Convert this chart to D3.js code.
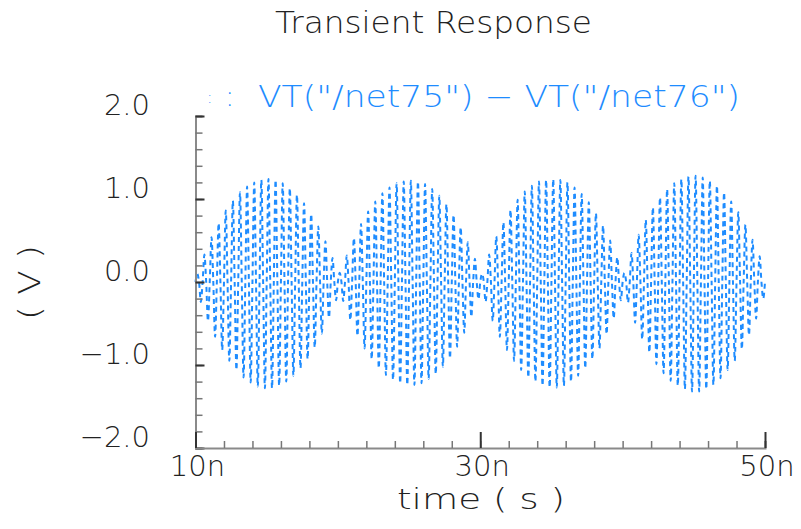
<!DOCTYPE html>
<html>
<head>
<meta charset="utf-8">
<script src="https://cdn.jsdelivr.net/npm/d3@7"></script>
<style>
  body { margin: 0; background: #fff; }
  text { font-family: "DejaVu Sans", sans-serif; font-weight: 200; }
</style>
</head>
<body>
<script>
// peak value of each half cycle (V), one per 0.25 ns starting at 10 ns
var peaks = [
   0.10, -0.24,  0.33, -0.47,  0.54, -0.66,  0.71, -0.82,  0.86, -0.95,
   0.98, -1.06,  1.08, -1.15,  1.15, -1.21,  1.20, -1.26,  1.23, -1.28,
   1.24, -1.28,  1.23, -1.25,  1.19, -1.20,  1.13, -1.13,  1.05, -1.04,
   0.95, -0.93,  0.82, -0.79,  0.67, -0.62,  0.49, -0.43,  0.29, -0.22,

   0.11, -0.23,  0.32, -0.46,  0.53, -0.65,  0.70, -0.80,  0.85, -0.93,
   0.97, -1.04,  1.07, -1.12,  1.14, -1.18,  1.19, -1.22,  1.21, -1.24,
   1.22, -1.24,  1.21, -1.22,  1.18, -1.17,  1.12, -1.11,  1.04, -1.02,
   0.94, -0.92,  0.81, -0.78,  0.66, -0.61,  0.48, -0.42,  0.28, -0.21,

   0.10, -0.24,  0.33, -0.47,  0.55, -0.66,  0.72, -0.82,  0.87, -0.95,
   0.99, -1.06,  1.09, -1.15,  1.16, -1.20,  1.21, -1.25,  1.23, -1.27,
   1.24, -1.27,  1.23, -1.25,  1.20, -1.20,  1.14, -1.13,  1.06, -1.04,
   0.96, -0.93,  0.83, -0.80,  0.68, -0.63,  0.50, -0.44,  0.30, -0.22,

   0.11, -0.25,  0.35, -0.49,  0.57, -0.69,  0.75, -0.85,  0.90, -0.99,
   1.02, -1.10,  1.12, -1.19,  1.19, -1.25,  1.24, -1.29,  1.27, -1.32,
   1.28, -1.32,  1.26, -1.29,  1.22, -1.24,  1.16, -1.16,  1.08, -1.06,
   0.97, -0.95,  0.84, -0.81,  0.69, -0.64,  0.51, -0.44,  0.31, -0.20
];
var tStart = 10e-9, halfPeriod = 0.25e-9;

var yMajor = [-2, -1, 0, 1, 2];
var yLabels = ["\u22122.0", "\u22121.0", "0.0", "1.0", "2.0"];
var xMajor = [10e-9, 30e-9, 50e-9];
var xLabels = ["10n", "30n", "50n"];

var width = 801, height = 529;
var blue = "#1e8cff";

var svg = d3.select("body").append("svg")
    .attr("width", width)
    .attr("height", height);

var x = d3.scaleLinear().domain([10e-9, 50e-9]).range([195.5, 765]);
var y = d3.scaleLinear().domain([-2, 2]).range([448, 116]);

// waveform: zero crossing, then peak, for each half cycle
var pts = [];
peaks.forEach(function(p, i) {
    pts.push([tStart + i * halfPeriod, 0]);
    pts.push([tStart + (i + 0.5) * halfPeriod, p]);
});
pts.push([tStart + peaks.length * halfPeriod, 0]);

var line = d3.line()
    .x(function(d) { return x(d[0]); })
    .y(function(d) { return y(d[1]); })
    .curve(d3.curveMonotoneX);

svg.append("path")
    .datum(pts)
    .attr("fill", "none")
    .attr("stroke", blue)
    .attr("stroke-width", 2)
    .attr("stroke-dasharray", "5,4")
    .attr("d", line);

// ticks point inward
var yMinor = d3.range(-20, 21, 2).map(function(v) { return v / 10; });
var xMinor = d3.range(10, 51, 2).map(function(v) { return v * 1e-9; });

var yAx = svg.append("g")
    .attr("transform", "translate(" + x(10e-9) + ",0)")
    .call(d3.axisRight(y).tickValues(yMinor).tickSize(7).tickFormat(""));
var yAxMaj = svg.append("g")
    .attr("transform", "translate(" + x(10e-9) + ",0)")
    .call(d3.axisRight(y).tickValues(yMajor).tickSize(9).tickFormat(""));

var xAx = svg.append("g")
    .attr("transform", "translate(0," + y(-2) + ")")
    .call(d3.axisTop(x).tickValues(xMinor).tickSize(7).tickFormat(""));
var xAxMaj = svg.append("g")
    .attr("transform", "translate(0," + y(-2) + ")")
    .call(d3.axisTop(x).tickValues(xMajor).tickSize(16).tickFormat(""));

[yAx, xAx].forEach(function(g) {
    g.select(".domain").attr("stroke", "#8a8a8a").attr("stroke-width", 2);
    g.selectAll(".tick line").attr("stroke", "#777").attr("stroke-width", 1.5);
});
[yAxMaj, xAxMaj].forEach(function(g) {
    g.select(".domain").remove();
    g.selectAll(".tick line").attr("stroke", "#333").attr("stroke-width", 2);
});

// tick labels
svg.selectAll(".ylab")
    .data(yMajor)
    .enter().append("text")
    .attr("class", "ylab")
    .attr("x", 150)
    .attr("y", function(d) { return y(d) - 1; })
    .attr("text-anchor", "end")
    .attr("font-size", 29)
    .attr("fill", "#222")
    .text(function(d, i) { return yLabels[i]; });

svg.selectAll(".xlab")
    .data(xMajor)
    .enter().append("text")
    .attr("class", "xlab")
    .attr("x", function(d) { return x(d) + 2; })
    .attr("y", 476)
    .attr("text-anchor", "middle")
    .attr("font-size", 29)
    .attr("fill", "#222")
    .text(function(d, i) { return xLabels[i]; });

// titles
svg.append("text")
    .attr("x", 275).attr("y", 33)
    .attr("font-size", 30)
    .attr("textLength", 317)
    .attr("lengthAdjust", "spacingAndGlyphs")
    .attr("fill", "#222")
    .text("Transient Response");

svg.append("text")
    .attr("x", 207).attr("y", 103)
    .attr("font-size", 16)
    .attr("fill", blue)
    .text(":");
svg.append("text")
    .attr("x", 225).attr("y", 106)
    .attr("font-size", 28)
    .attr("fill", blue)
    .text(":");
svg.append("text")
    .attr("x", 258).attr("y", 107)
    .attr("font-size", 30)
    .attr("textLength", 482)
    .attr("lengthAdjust", "spacingAndGlyphs")
    .attr("fill", blue)
    .text("VT(\"/net75\") \u2212 VT(\"/net76\")");

svg.append("text")
    .attr("x", 397).attr("y", 509)
    .attr("font-size", 28)
    .attr("textLength", 168)
    .attr("lengthAdjust", "spacingAndGlyphs")
    .attr("fill", "#222")
    .text("time ( s )");

svg.append("text")
    .attr("transform", "translate(40,320) rotate(-90)")
    .attr("font-size", 30)
    .attr("textLength", 75)
    .attr("lengthAdjust", "spacingAndGlyphs")
    .attr("fill", "#222")
    .text("( V )");
</script>
</body>
</html>
